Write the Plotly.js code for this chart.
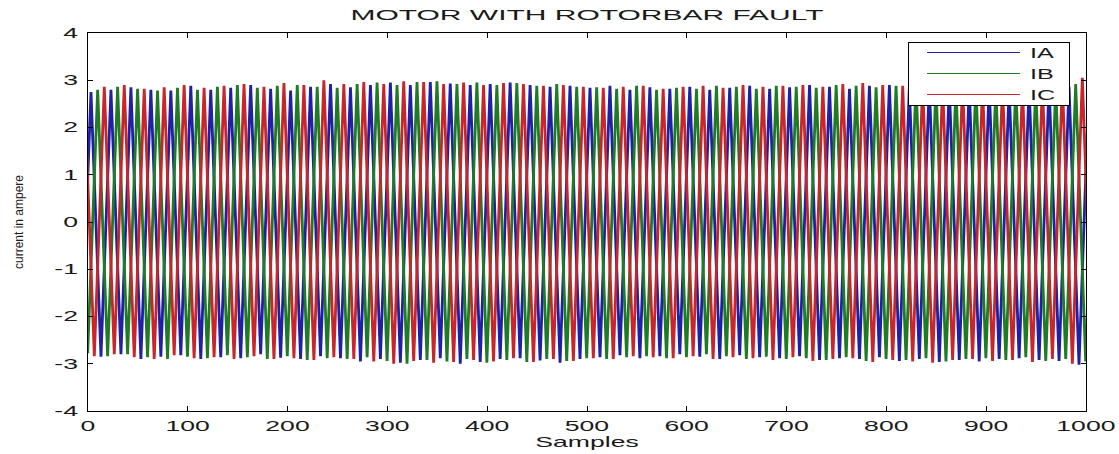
<!DOCTYPE html>
<html><head><meta charset="utf-8">
<script src="https://cdn.plot.ly/plotly-3.0.1.min.js"></script>
<style>html,body{margin:0;padding:0;background:#fff}#chart{width:1119px;height:454px}</style>
</head><body><div id="chart"></div>
<script>
// Peak / trough values of each phase current, one value per half cycle (every 10 samples)
const seriesNames = ['IA', 'IB', 'IC'];
const halfPeriod = 10;               // samples between successive extrema
const iaFirstSample = -7;            // sample index of first listed extremum
const ibFirstSample = -0.33;
const icFirstSample = -3.67;

const iaExtrema = [
  -2.8, 2.75, -2.85, 2.8, -2.8, 2.85, -2.9, 2.8, -2.85, 2.78,
  -2.82, 2.88, -2.9, 2.8, -2.86, 2.84, -2.88, 2.9, -2.8, 2.82,
  -2.87, 2.78, -2.9, 2.86, -2.84, 2.92, -2.88, 2.85, -2.95, 2.9,
  -2.9, 2.95, -2.98, 2.9, -2.92, 2.96, -2.88, 2.93, -3.0, 2.9,
  -2.96, 2.92, -2.9, 2.95, -2.88, 2.9, -2.93, 2.86, -2.98, 2.88,
  -2.9, 2.84, -2.86, 2.88, -2.82, 2.8, -2.88, 2.85, -2.84, 2.82,
  -2.8, 2.86, -2.85, 2.8, -2.9, 2.84, -2.82, 2.88, -2.86, 2.82,
  -2.88, 2.85, -2.84, 2.9, -2.92, 2.86, -2.88, 2.82, -2.9, 2.88,
  -2.86, 2.9, -2.94, 2.85, -2.9, 2.92, -2.96, 2.88, -2.92, 2.86,
  -2.95, 2.88, -2.9, 2.84, -2.88, 2.86, -2.92, 2.9, -2.94, 2.86, -3.02, 2.9
];
const ibExtrema = [
  -2.78, 2.8, -2.84, 2.86, -2.8, 2.82, -2.86, 2.78, -2.9, 2.84,
  -2.85, 2.8, -2.88, 2.86, -2.82, 2.9, -2.86, 2.84, -2.9, 2.88,
  -2.84, 2.9, -2.92, 2.86, -2.88, 2.84, -2.9, 2.92, -2.86, 2.95,
  -2.94, 2.9, -3.0, 2.96, -2.92, 2.98, -2.95, 2.92, -2.9, 2.95,
  -2.98, 2.9, -2.92, 2.94, -2.96, 2.88, -2.9, 2.92, -2.94, 2.86,
  -2.88, 2.85, -2.9, 2.82, -2.86, 2.88, -2.84, 2.8, -2.88, 2.84,
  -2.86, 2.82, -2.8, 2.88, -2.84, 2.86, -2.9, 2.82, -2.85, 2.88,
  -2.9, 2.86, -2.88, 2.84, -2.92, 2.9, -2.86, 2.88, -2.94, 2.85,
  -2.9, 2.88, -2.92, 2.94, -2.88, 2.9, -2.95, 2.86, -2.9, 2.92,
  -2.88, 2.85, -2.92, 2.9, -2.86, 2.88, -2.94, 2.86, -2.9, 2.92, -2.95, 2.9
];
const icExtrema = [
  2.8, -2.84, 2.86, -2.8, 2.9, -2.86, 2.82, -2.9, 2.85, -2.82,
  2.9, -2.88, 2.84, -2.86, 2.88, -2.9, 2.92, -2.84, 2.86, -2.9,
  2.94, -2.88, 2.9, -2.92, 3.0, -2.86, 2.92, -2.9, 2.96, -2.95,
  2.92, -3.0, 2.98, -2.94, 2.96, -2.98, 2.92, -2.96, 2.95, -2.92,
  2.9, -2.95, 2.94, -2.88, 2.92, -2.96, 2.88, -2.9, 2.9, -2.94,
  2.86, -2.88, 2.84, -2.9, 2.86, -2.84, 2.88, -2.86, 2.82, -2.88,
  2.86, -2.84, 2.88, -2.9, 2.84, -2.86, 2.9, -2.88, 2.86, -2.92,
  2.88, -2.86, 2.9, -2.94, 2.86, -2.9, 2.92, -2.88, 2.94, -2.96,
  2.9, -2.92, 2.88, -2.95, 2.92, -2.98, 2.9, -2.92, 2.94, -2.9,
  2.88, -2.94, 2.9, -2.92, 2.86, -2.96, 2.92, -2.9, 2.96, -3.0, 3.05, -2.9
];
const xTickVals = [0, 100, 200, 300, 400, 500, 600, 700, 800, 900, 1000];
const yTickVals = [-4, -3, -2, -1, 0, 1, 2, 3, 4];

const colors = ['#2020a4', '#1f7c26', '#c8262c'];
const starts = [iaFirstSample, ibFirstSample, icFirstSample];
const ys = [iaExtrema, ibExtrema, icExtrema];

const traces = seriesNames.map((n, i) => ({
  type: 'scatter', mode: 'lines', name: n,
  y: ys[i], x0: starts[i], dx: halfPeriod,
  line: {color: colors[i], width: 2.8},
  hoverinfo: 'skip'
}));

const FONT = 'Liberation Sans, Arial, sans-serif';
const layout = {
  width: 1119, height: 454,
  margin: {l: 88, r: 33, t: 33, b: 43, pad: 0},
  paper_bgcolor: '#fff', plot_bgcolor: '#fff',
  showlegend: true,
  title: {text: 'MOTOR WITH ROTORBAR FAULT', font: {family: FONT, size: 15, color: '#1a1a1a'},
          x: 0.5, xref: 'paper', xanchor: 'center', y: 1 - 15 / 454, yref: 'container', yanchor: 'middle'},
  xaxis: {range: [0, 1000], tickvals: xTickVals, ticktext: xTickVals.map(String),
          ticks: 'inside', ticklen: 5, tickcolor: '#000', mirror: 'ticks', showline: true,
          linecolor: '#000', linewidth: 1, showgrid: false, zeroline: false,
          tickfont: {family: FONT, size: 14, color: '#1a1a1a'}, ticklabelstandoff: 2,
          title: {text: 'Samples', font: {family: FONT, size: 14, color: '#1a1a1a'}, standoff: 1},
          automargin: false},
  yaxis: {range: [-4, 4], tickvals: yTickVals, ticktext: yTickVals.map(String),
          ticks: 'inside', ticklen: 5, tickcolor: '#000', mirror: 'ticks', showline: true,
          linecolor: '#000', linewidth: 1, showgrid: false, zeroline: false,
          tickfont: {family: FONT, size: 14, color: '#1a1a1a'}, ticklabelstandoff: 6,
          title: {text: 'current in ampere', font: {family: FONT, size: 12, color: '#1a1a1a'}, standoff: 39},
          automargin: false},
  legend: {x: (908 - 88) / 998, y: (411 - 42) / 378, xanchor: 'left', yanchor: 'top',
           bgcolor: '#fff', bordercolor: '#000', borderwidth: 1, itemwidth: 111,
           font: {family: FONT, size: 14, color: '#1a1a1a'}, tracegroupgap: 0}
};

function stretch(el, s, mode) {
  const r = el.getBoundingClientRect();
  const sx = mode === 'left' ? r.left : mode === 'right' ? r.right : (r.left + r.right) / 2;
  const svg = el.ownerSVGElement;
  const pt = svg.createSVGPoint(); pt.x = sx; pt.y = r.top;
  const lp = pt.matrixTransform(el.parentNode.getScreenCTM().inverse());
  const old = el.getAttribute('transform') || '';
  el.setAttribute('transform', `translate(${lp.x},0) scale(${s},1) translate(${-lp.x},0) ${old}`);
}

Plotly.newPlot('chart', traces, layout, {displayModeBar: false, staticPlot: true}).then(gd => {
  const S = 1.9;
  gd.querySelectorAll('.gtitle').forEach(e => stretch(e, 2.0, 'center'));
  gd.querySelectorAll('.xtick text').forEach(e => stretch(e, S, 'center'));
  gd.querySelectorAll('.ytick text').forEach(e => stretch(e, S, 'right'));
  gd.querySelectorAll('.g-xtitle text').forEach(e => stretch(e, S, 'center'));
  // legend: long thin sample lines, stretched labels, box sized like the reference
  gd.querySelectorAll('.legend .traces').forEach((g, i) => {
    const p = g.querySelector('.legendlines path');
    if (p) { p.setAttribute('d', 'M18,0h93'); p.style.strokeWidth = '1px'; }
    const t = g.querySelector('.legendtext');
    if (t) { t.setAttribute('x', 121); stretch(t, 1.8, 'left'); }
    g.setAttribute('transform', `translate(1,${10.5 + 21 * i})`);
  });
  const bg = gd.querySelector('.legend .bg');
  if (bg) { bg.setAttribute('width', 161); bg.setAttribute('height', 63); }
  gd.querySelectorAll('clipPath[id^="legend"] rect').forEach(r => { r.setAttribute('width', 161); r.setAttribute('height', 63); });
});
</script></body></html>
